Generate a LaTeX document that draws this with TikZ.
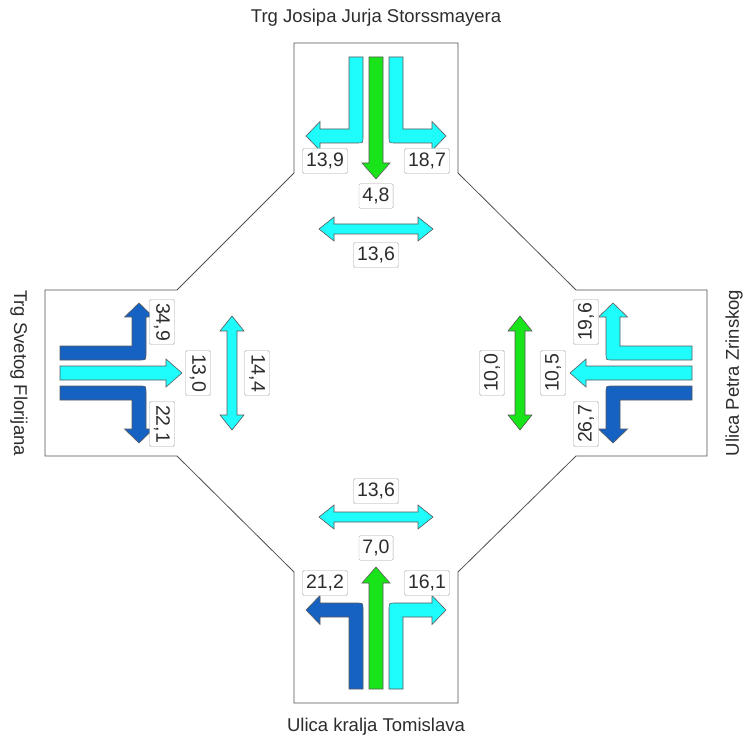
\documentclass[tikz,border=0pt]{standalone}
\usepackage{fontspec}
\setmainfont{Liberation Sans}
\definecolor{lanecyan}{RGB}{30,252,252}
\definecolor{lanegreen}{RGB}{25,228,25}
\definecolor{laneblue}{RGB}{22,98,195}
\definecolor{edgecol}{RGB}{80,80,80}
\definecolor{textcol}{RGB}{45,45,45}

\begin{document}
\begin{tikzpicture}[
			x=1pt, y=-1pt,
			lanecol/.code={\colorlet{lanefill}{#1}},
			lane/.style={
				draw=black!65,
				line width=0.6pt,
				fill=lanefill
			},
			count/.style={
				draw=black!35,
				fill=white,
				rounded corners=1.5pt,
				text=textcol,
				font=\fontsize{19.5}{19.5}\selectfont,
				inner xsep=3.5pt,
				inner ysep=0pt,
				minimum height=25pt
			},
			street/.style={
				text=textcol,
				font=\fontsize{18.5}{18.5}\selectfont
			},
			leftbend/.pic={
				\filldraw[lane] (-13,-316) -- (-27,-316) -- (-27,-244) -- (-56,-244) -- (-56,-251.5) -- (-70,-237) -- (-56,-222.5) -- (-56,-230) -- (-19,-230) .. controls (-13,-230) .. (-13,-236) -- cycle;
			},
			rightbend/.pic={
				\filldraw[lane] (13,-316) -- (27,-316) -- (27,-244) -- (56,-244) -- (56,-251.5) -- (70,-237) -- (56,-222.5) -- (56,-230) -- (19,-230) .. controls (13,-230) .. (13,-236) -- cycle;
			},
			straight/.pic={
				\filldraw[lane] (-7,-316) -- (7,-316) -- (7,-210) -- (14,-210) -- (0,-194) -- (-14,-210) -- (-7,-210) -- cycle;
			},
			crossing/.pic={
				\filldraw[lane] (-57,-144) -- (-42,-156) -- (-42,-149) -- (42,-149) -- (42,-156) -- (57,-144) -- (42,-132) -- (42,-139) -- (-42,-139) -- (-42,-132) -- cycle;
			}
			]
			\useasboundingbox (0,0) rectangle (747,743);
			
			% Outline of the junction
			\draw[edgecol, line width=0.8pt] (294,43) -- (458,43) -- (458,173) -- (576,290) -- (707,290) -- (707,456) -- (576,456) -- (458,572) -- (458,703) -- (294,703) -- (294,572) -- (177,456) -- (45,456) -- (45,290) -- (177,290) -- (294,173) -- cycle;
			
			% Street names
			\node[street] (north) at (376,18) {Trg Josipa Jurja Storssmayera};
			\node[street] (south) at (376,727) {Ulica kralja Tomislava};
			\node[street, rotate=-90] (west) at (19,373) {Trg Svetog Florijana};
			\node[street, rotate=90] (east) at (734,373) {Ulica Petra Zrinskog};
			
			% North approach
			\begin{scope}[shift={(376,373)}]
				\pic[transform shape, lanecol=lanecyan] {leftbend};
				\pic[transform shape, lanecol=lanegreen] {straight};
				\pic[transform shape, lanecol=lanecyan] {rightbend};
				\pic[transform shape, lanecol=lanecyan] {crossing};
				\node[count] (nl) at (-51,-212) {13,9};
				\node[count] (nr) at (51,-212) {18,7};
				\node[count] (nt) at (0,-177) {4,8};
				\node[count] (np) at (0,-118) {13,6};
			\end{scope}
			
			% West approach
			\begin{scope}[shift={(376,373)}, rotate=90]
				\pic[transform shape, lanecol=laneblue] {leftbend};
				\pic[transform shape, lanecol=lanecyan] {straight};
				\pic[transform shape, lanecol=laneblue] {rightbend};
				\pic[transform shape, lanecol=lanecyan] {crossing};
				\node[count, rotate=-90] (wl) at (-51,-214) {22,1};
				\node[count, rotate=-90] (wr) at (51,-214) {34,9};
				\node[count, rotate=-90] (wt) at (0,-178) {13,0};
				\node[count, rotate=-90] (wp) at (0,-119) {14,4};
			\end{scope}
			
			% East approach
			\begin{scope}[shift={(376,373)}, rotate=-90]
				\pic[transform shape, lanecol=lanecyan] {leftbend};
				\pic[transform shape, lanecol=lanecyan] {straight};
				\pic[transform shape, lanecol=laneblue] {rightbend};
				\pic[transform shape, lanecol=lanegreen] {crossing};
				\node[count, rotate=90] (el) at (-51,-210) {19,6};
				\node[count, rotate=90] (er) at (51,-210) {26,7};
				\node[count, rotate=90] (et) at (0,-177) {10,5};
				\node[count, rotate=90] (ep) at (0,-116) {10,0};
			\end{scope}
			
			% South approach
			\begin{scope}[shift={(376,373)}, rotate=180]
				\pic[transform shape, lanecol=lanecyan] {leftbend};
				\pic[transform shape, lanecol=lanegreen] {straight};
				\pic[transform shape, lanecol=laneblue] {rightbend};
				\pic[transform shape, lanecol=lanecyan] {crossing};
				\node[count] (sl) at (-51,-210) {16,1};
				\node[count] (sr) at (51,-210) {21,2};
				\node[count] (st) at (0,-175) {7,0};
				\node[count] (sp) at (0,-118) {13,6};
			\end{scope}
		\end{tikzpicture}
\end{document}
